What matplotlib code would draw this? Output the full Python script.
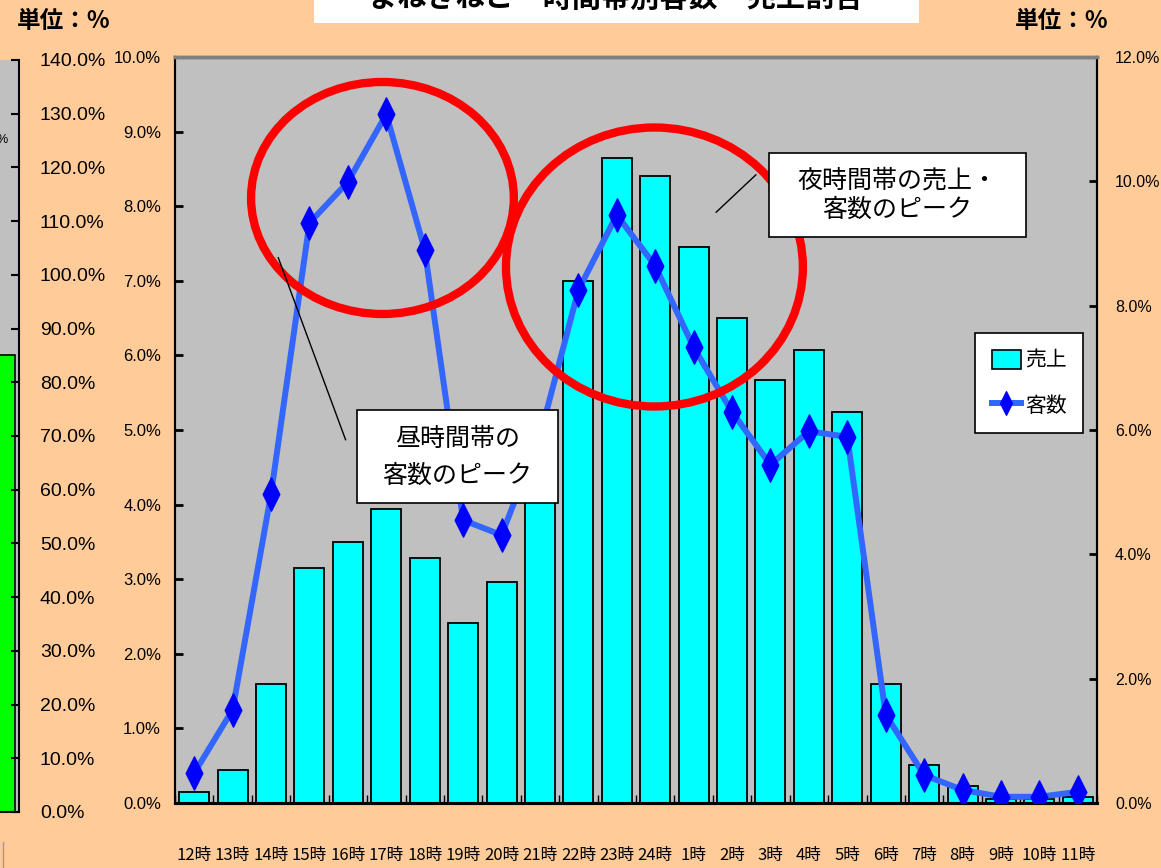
import numpy as np
import matplotlib
matplotlib.use("Agg")
import matplotlib.pyplot as plt
from matplotlib.patches import Ellipse, Rectangle, Patch
from matplotlib.path import Path
from matplotlib.lines import Line2D

# ---- data -------------------------------------------------------------
hours = ["12時", "13時", "14時", "15時", "16時", "17時", "18時", "19時",
         "20時", "21時", "22時", "23時", "24時", "1時", "2時", "3時",
         "4時", "5時", "6時", "7時", "8時", "9時", "10時", "11時"]
# share of sales per hour (%), left axis
sales = [0.15, 0.44, 1.60, 3.15, 3.50, 3.94, 3.28, 2.41,
         2.96, 4.50, 7.00, 8.65, 8.40, 7.45, 6.50, 5.67,
         6.07, 5.24, 1.60, 0.51, 0.23, 0.06, 0.06, 0.08]
# share of customers per hour (%), right axis
customers = [0.48, 1.50, 4.97, 9.33, 9.99, 11.08, 8.90, 4.55,
             4.31, 5.90, 8.25, 9.46, 8.64, 7.33, 6.29, 5.44,
             5.98, 5.89, 1.42, 0.45, 0.21, 0.10, 0.10, 0.18]
left_ticks = [0, 1, 2, 3, 4, 5, 6, 7, 8, 9, 10]
right_ticks = [0, 2, 4, 6, 8, 10, 12]
# neighbouring panel (partly visible at the left edge)
side_ticks = [0, 10, 20, 30, 40, 50, 60, 70, 80, 90, 100, 110, 120, 130, 140]
side_value = [85.0]

# ---- style ------------------------------------------------------------
BG = "#FFCC99"
PLOT_BG = "#C0C0C0"
CJK = ["Noto Sans CJK JP", "DejaVu Sans"]
NARROW = ["Liberation Sans Narrow", "Liberation Sans", "DejaVu Sans"]
NARROW_CJK = ["Liberation Sans Narrow", "Noto Sans CJK JP", "DejaVu Sans"]
plt.rcParams["font.family"] = CJK

W, H = 1161, 868
fig = plt.figure(figsize=(W / 100, H / 100), dpi=100, facecolor=BG)


def px_rect(x0, y0, x1, y1):
    return [x0 / W, 1 - y1 / H, (x1 - x0) / W, (y1 - y0) / H]


# ---- neighbouring panel at the left edge ------------------------------
axs = fig.add_axes(px_rect(-40, 60, 19, 812))
axs.set_facecolor(PLOT_BG)
axs.bar([10], side_value, width=45, align="edge", color="#00FF00",
        edgecolor="black", linewidth=1.2)
axs.set_xlim(0, 59)
axs.set_ylim(0, 140)
axs.set_xticks([])
axs.yaxis.tick_right()
axs.set_yticks(side_ticks)
axs.set_yticklabels([f"{v:.1f}%" for v in side_ticks], family=NARROW,
                    fontsize=14)
axs.tick_params(axis="y", direction="in", length=6, width=1.5, pad=15)
for s in ("top", "left"):
    axs.spines[s].set_visible(False)
axs.spines["right"].set_linewidth(1.5)
axs.spines["bottom"].set_linewidth(1.5)
fig.text(8 / W, 1 - 140 / H, "%", ha="right", va="center", fontsize=9,
         family=NARROW)
fig.add_artist(Line2D([3 / W, 3 / W], [1 - 842 / H, 0], color="#999999",
                      lw=1, transform=fig.transFigure))

# ---- main chart -------------------------------------------------------
ax = fig.add_axes(px_rect(175, 57, 1097, 803))
ax.set_facecolor(PLOT_BG)
x = np.arange(len(hours))
ax.bar(x, sales, width=0.78, color="#00FFFF", edgecolor="black",
       linewidth=1.3, zorder=2, label="売上")
ax.set_xlim(-0.5, len(hours) - 0.5)
ax.set_ylim(0, 10)
ax.set_yticks(left_ticks)
ax.set_yticklabels([f"{v:.1f}%" for v in left_ticks], family=NARROW,
                   fontsize=12)
ax.tick_params(axis="y", direction="in", length=6, width=2, pad=10)
ax.set_xticks(x)
ax.set_xticklabels(hours, family=NARROW_CJK, fontsize=12)
ax.tick_params(axis="x", which="major", length=0, pad=32)
ax.set_xticks(np.arange(-0.5, len(hours), 1), minor=True)
ax.tick_params(axis="x", which="minor", direction="in", length=6, width=1)

ax2 = ax.twinx()
diamond = Path([(0, 1), (0.5, 0), (0, -1), (-0.5, 0), (0, 1)],
               [Path.MOVETO, Path.LINETO, Path.LINETO, Path.LINETO,
                Path.CLOSEPOLY])
ax2.plot(x, customers, color="#3366FF", lw=4.3, marker=diamond, ms=24,
         mfc="#0000FF", mec="#0000FF", zorder=3)
ax2.set_ylim(0, 12)
ax2.set_yticks(right_ticks)
ax2.set_yticklabels([f"{v:.1f}%" for v in right_ticks], family=NARROW,
                    fontsize=11.5)
ax2.tick_params(axis="y", direction="in", length=6, width=2, pad=13)

for a in (ax, ax2):
    a.spines["top"].set_color("#808080")
    a.spines["top"].set_linewidth(2.5)
    a.spines["left"].set_linewidth(1.5)
    a.spines["right"].set_linewidth(1.5)
    a.spines["bottom"].set_linewidth(2.2)

# red highlight rings
for cx, cy, w, h in [(0.225, 0.811, 0.285, 0.311),
                     (0.520, 0.7185, 0.322, 0.374)]:
    ax2.add_patch(Ellipse((cx, cy), w, h, transform=ax2.transAxes,
                          fill=False, edgecolor="#FF0000", lw=6,
                          clip_on=False, zorder=5))

# callouts
ax2.add_artist(Line2D([0.185, 0.112], [0.487, 0.731], color="black", lw=1,
                      transform=ax2.transAxes, zorder=6))
ax2.add_artist(Line2D([0.587, 0.630], [0.792, 0.842], color="black", lw=1,
                      transform=ax2.transAxes, zorder=6))
ax2.add_patch(Rectangle((0.1978, 0.402), 0.2174, 0.1247,
                        transform=ax2.transAxes, facecolor="white",
                        edgecolor="black", lw=1.2, zorder=6))
ax2.text(0.3065, 0.4638, "昼時間帯の\n客数のピーク", transform=ax2.transAxes,
         ha="center", va="center", fontsize=18, linespacing=1.55, zorder=7)
ax2.add_patch(Rectangle((0.6446, 0.7587), 0.2783, 0.1126,
                        transform=ax2.transAxes, facecolor="white",
                        edgecolor="black", lw=1.2, zorder=6))
ax2.text(0.7837, 0.815, "夜時間帯の売上・\n客数のピーク",
         transform=ax2.transAxes, ha="center", va="center", fontsize=18,
         linespacing=1.2, zorder=7)

# legend
handles = [Patch(facecolor="#00FFFF", edgecolor="black", lw=1.2),
           Line2D([], [], color="#3366FF", lw=4.3, marker=diamond, ms=17,
                  mfc="#0000FF", mec="#0000FF")]
leg = ax2.legend(handles, ["売上", "客数"], loc="upper left",
                 bbox_to_anchor=(0.8677, 0.630), borderaxespad=0,
                 frameon=True, fancybox=False, framealpha=1,
                 edgecolor="black", fontsize=15, handlelength=1.4,
                 handleheight=1.0, handletextpad=0.2, labelspacing=1.1,
                 borderpad=0.8, numpoints=1)
leg.get_frame().set_linewidth(1.2)
leg.set_zorder(8)

# ---- header -----------------------------------------------------------
fig.add_artist(Rectangle((314 / W, 1 - 23 / H), (919 - 314) / W, 23 / H,
                         transform=fig.transFigure, facecolor="white",
                         edgecolor="none"))
fig.text(616 / W, 1 - 7 / H, "まねきねこ　時間帯別客数・売上割合",
         ha="center", va="baseline", fontsize=21, fontweight="bold")
fig.text(17 / W, 1 - 21 / H, "単位：%", ha="left", va="center",
         fontsize=17, fontweight="bold")
fig.text(1015 / W, 1 - 21 / H, "単位：%", ha="left", va="center",
         fontsize=17, fontweight="bold")

fig.savefig("out.png", dpi=100, facecolor=BG)
